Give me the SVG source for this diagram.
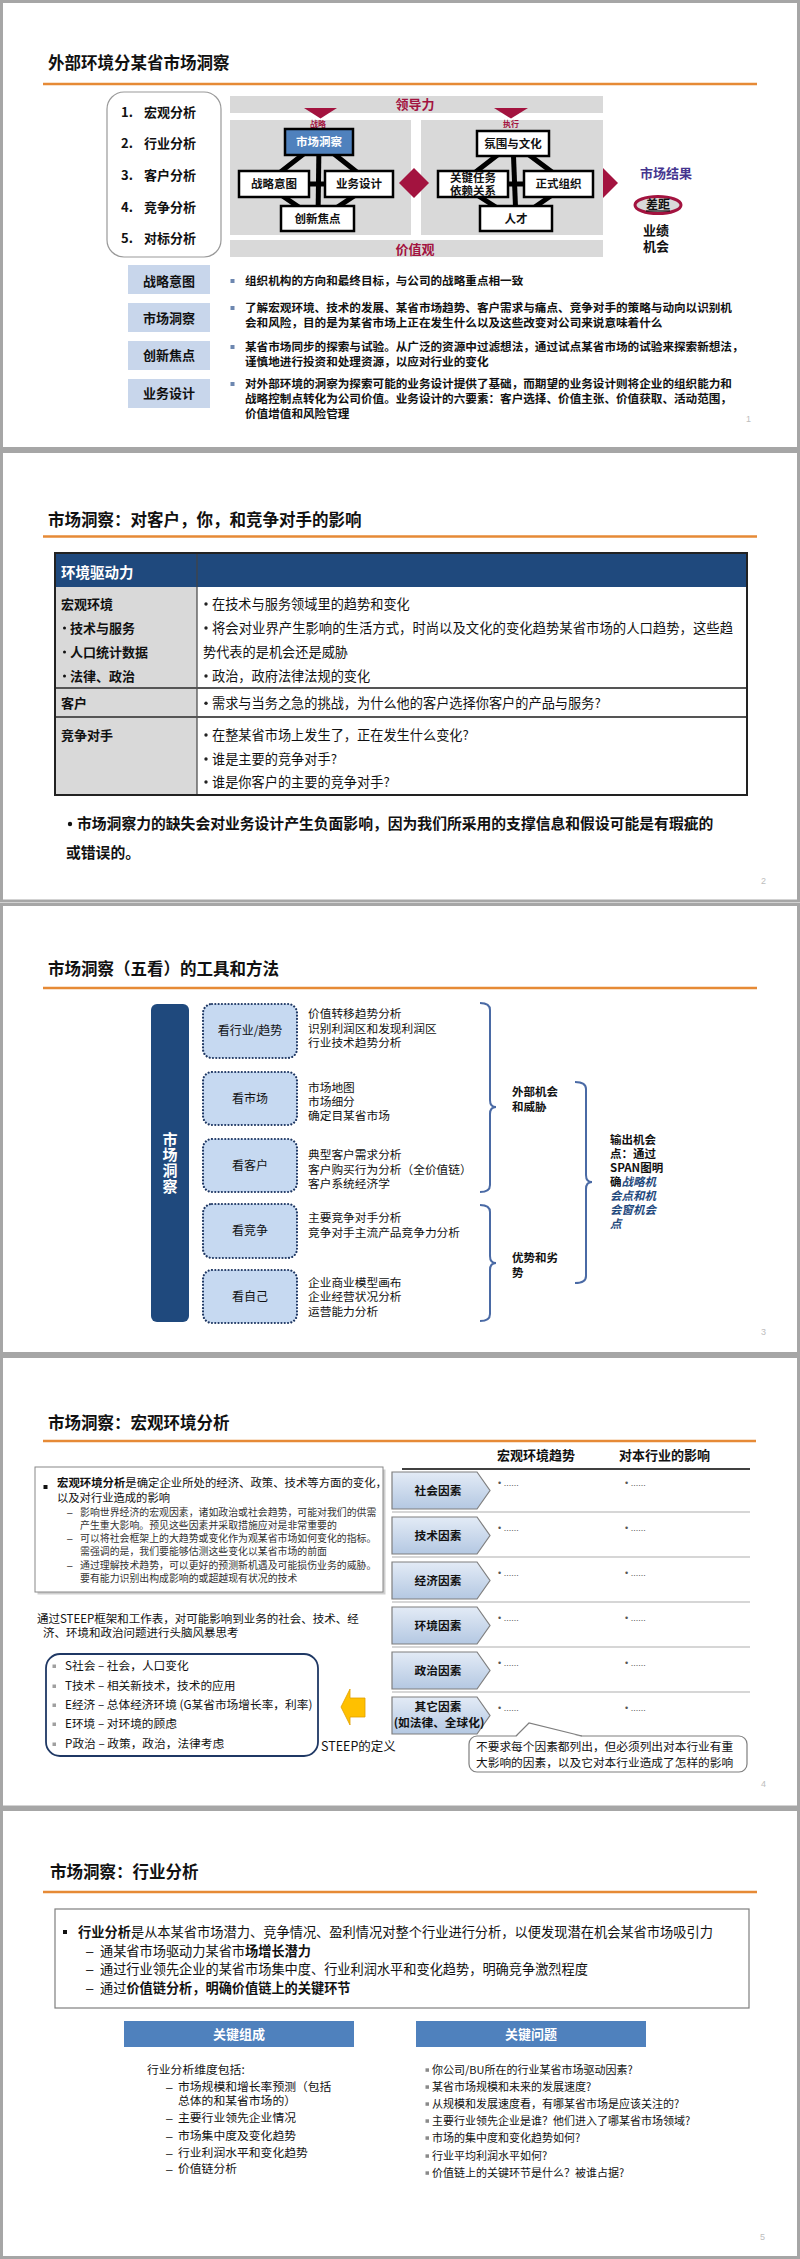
<svg xmlns="http://www.w3.org/2000/svg" width="800" height="2259" viewBox="0 0 800 2259">
<defs>
<style>
text{font-family:"Noto Sans CJK SC","Liberation Sans",sans-serif;fill:#111}
.b{font-weight:700}
.m{text-anchor:middle}
.ttl{font-size:16.5px;font-weight:700}
.frame{fill:#fff;stroke:#a6a6a6;stroke-width:3}
.orl{stroke:#E68A36;stroke-width:2.6}
.band{fill:#d9d9d9}
.cr{fill:#a3133f}
.crt{fill:#a3133f;font-weight:700}
.nb{fill:#fff;stroke:#000;stroke-width:2.5}
.nt{font-size:11.5px;font-weight:700}
.conn{stroke:#000;stroke-width:5;fill:none}
.lb{fill:#c8d6eb}
.p1{font-size:11.6px;font-weight:700}
.pg{font-size:9px;fill:#bdbdbd;font-family:"Liberation Sans",sans-serif}
.t13{font-size:13.2px}
.s2l{font-size:13px;font-weight:700}
.db{fill:#c6d9f1;stroke:#1f3864;stroke-width:2.2;stroke-dasharray:0.01 3.3;stroke-linecap:round}
.l12{font-size:11.7px}
.brace{fill:none;stroke:#4a6aa5;stroke-width:2}
.lab{font-size:11.5px;font-weight:700}
.bl{fill:#1f497d;font-style:italic}
.chev{fill:url(#cg);stroke:#7f7f7f;stroke-width:1.2}
.sep{stroke:#c8c8c8;stroke-width:1.5}
.dots{font-size:9px;fill:#555;font-family:"Liberation Sans",sans-serif}
.sq{fill:#111}
.dash{font-family:"Liberation Sans",sans-serif}
</style>
<linearGradient id="cg" x1="0" y1="0" x2="0" y2="1"><stop offset="0" stop-color="#e3ebf6"/><stop offset="1" stop-color="#b4c8e2"/></linearGradient>
</defs>
<rect x="0" y="0" width="800" height="2259" fill="#fff"/>
<g id="frames">
<rect class="frame" x="1.5" y="1.5" width="797" height="447"/>
<rect class="frame" x="1.5" y="451.5" width="797" height="449.5"/>
<rect class="frame" x="1.5" y="904.5" width="797" height="449"/>
<rect class="frame" x="1.5" y="1356.5" width="797" height="450.5"/>
<rect class="frame" x="1.5" y="1809.5" width="797" height="448"/>
</g>

<!-- ================= SLIDE 1 ================= -->
<g id="slide1">
<text class="ttl" x="48" y="69">外部环境分某省市场洞察</text>
<line class="orl" x1="43" y1="84" x2="757" y2="84"/>
<g id="s1-list">
<rect x="107" y="92" width="114" height="165" rx="17" fill="#fff" stroke="#999" stroke-width="1.2"/>
<g style="font-size:13px;font-weight:700">
<text x="121" y="117">1.</text><text x="144" y="117">宏观分析</text>
<text x="121" y="148">2.</text><text x="144" y="148">行业分析</text>
<text x="121" y="180">3.</text><text x="144" y="180">客户分析</text>
<text x="121" y="212">4.</text><text x="144" y="212">竞争分析</text>
<text x="121" y="243">5.</text><text x="144" y="243">对标分析</text>
</g>
</g>
<g id="s1-leadership">
<rect class="band" x="230" y="96" width="373" height="17"/>
<text class="crt m" x="415" y="108.5" style="font-size:13px">领导力</text>
<polygon class="cr" points="304,108 337,108 320.5,118.5"/>
<polygon class="cr" points="494,108 528,108 511,118.5"/>
</g>
<g id="s1-panels">
<rect class="band" x="230" y="120" width="181" height="115"/>
<rect class="band" x="421" y="120" width="182" height="115"/>
<text class="crt m" x="318" y="127" style="font-size:8px">战略</text>
<text class="crt m" x="511" y="127" style="font-size:8px">执行</text>
</g>
<g id="connectors">
<polygon class="conn" points="319,142 265,184 318,220 372,184"/>
<line class="conn" x1="319" y1="142" x2="318" y2="220"/>
<line class="conn" x1="265" y1="184" x2="372" y2="184"/>
<polygon class="conn" points="513,143 460,184 516,220 568,184"/>
<line class="conn" x1="513" y1="143" x2="516" y2="220"/>
<line class="conn" x1="460" y1="184" x2="568" y2="184"/>
</g>
<g id="n-market-insight"><rect x="285" y="129" width="68" height="26" fill="#4f81bd" stroke="#000" stroke-width="2.5"/><text class="nt m" x="319" y="146.3" style="fill:#fff">市场洞察</text></g>
<g id="n-strategic-intent"><rect class="nb" x="239" y="171" width="70" height="26"/><text class="nt m" x="274" y="188.3">战略意图</text></g>
<g id="n-business-design"><rect class="nb" x="325" y="171" width="68" height="26"/><text class="nt m" x="359" y="188.3">业务设计</text></g>
<g id="n-innovation"><rect class="nb" x="281" y="206" width="73" height="25"/><text class="nt m" x="317.5" y="222.8">创新焦点</text></g>
<g id="n-culture"><rect class="nb" x="477" y="131" width="72" height="25"/><text class="nt m" x="513" y="147.8">氛围与文化</text></g>
<g id="n-key-tasks"><rect class="nb" x="438" y="171" width="70" height="26"/><text class="nt m" x="473" y="181.5">关键任务</text><text class="nt m" x="473" y="194.5">依赖关系</text></g>
<g id="n-formal-org"><rect class="nb" x="524" y="171" width="69" height="26"/><text class="nt m" x="558.5" y="188.3">正式组织</text></g>
<g id="n-talent"><rect class="nb" x="480" y="206" width="72" height="25"/><text class="nt m" x="516" y="222.8">人才</text></g>
<polygon class="cr" points="399,183 414,168 429,183 414,198"/>
<polygon class="cr" points="603,168 618,183 603,198"/>
<g id="s1-results">
<text class="b m" x="666" y="177.8" style="font-size:13px;fill:#45368f">市场结果</text>
<ellipse cx="658" cy="205" rx="23" ry="8.5" fill="#d9d9d9" stroke="#a3133f" stroke-width="3"/>
<text class="b m" x="658" y="209.4" style="font-size:12px;text-decoration:underline">差距</text>
<text class="b m" x="656" y="235" style="font-size:13px">业绩</text>
<text class="b m" x="656" y="251" style="font-size:13px">机会</text>
</g>
<g id="s1-values">
<rect class="band" x="230" y="240" width="373" height="17"/>
<text class="crt m" x="415" y="253.5" style="font-size:13px">价值观</text>
</g>
<g id="s1-defs">
<rect class="lb" x="128" y="265" width="82" height="29"/><text class="b m" x="169" y="285.8" style="font-size:13px">战略意图</text>
<rect class="lb" x="128" y="303" width="82" height="29"/><text class="b m" x="169" y="322.8" style="font-size:13px">市场洞察</text>
<rect class="lb" x="128" y="341" width="82" height="29"/><text class="b m" x="169" y="360.3" style="font-size:13px">创新焦点</text>
<rect class="lb" x="128" y="379" width="82" height="29"/><text class="b m" x="169" y="398.3" style="font-size:13px">业务设计</text>
<g fill="#6d87b0"><rect x="230.5" y="279" width="4" height="4"/><rect x="230.5" y="306" width="4" height="4"/><rect x="230.5" y="345" width="4" height="4"/><rect x="230.5" y="382" width="4" height="4"/></g>
<text class="p1" x="245" y="285.3">组织机构的方向和最终目标，与公司的战略重点相一致</text>
<text class="p1" x="245" y="312.3">了解宏观环境、技术的发展、某省市场趋势、客户需求与痛点、竞争对手的策略与动向以识别机</text>
<text class="p1" x="245" y="327.3">会和风险，目的是为某省市场上正在发生什么以及这些改变对公司来说意味着什么</text>
<text class="p1" x="245" y="351.3">某省市场同步的探索与试验。从广泛的资源中过滤想法，通过试点某省市场的试验来探索新想法，</text>
<text class="p1" x="245" y="366.3">谨慎地进行投资和处理资源，以应对行业的变化</text>
<text class="p1" x="245" y="388.3">对外部环境的洞察为探索可能的业务设计提供了基础，而期望的业务设计则将企业的组织能力和</text>
<text class="p1" x="245" y="403.3">战略控制点转化为公司价值。业务设计的六要素：客户选择、价值主张、价值获取、活动范围，</text>
<text class="p1" x="245" y="418.3">价值增值和风险管理</text>
</g>
<text class="pg" x="746" y="422">1</text>
</g>

<!-- ================= SLIDE 2 ================= -->
<g id="slide2">
<text class="ttl" x="48" y="526">市场洞察：对客户，你，和竞争对手的影响</text>
<line class="orl" x1="43" y1="536.5" x2="757" y2="536.5"/>
<g id="s2-table">
<rect x="55" y="553" width="692" height="34" fill="#1f497d"/>
<rect x="55" y="587" width="142" height="208" fill="#d9d9d9"/>
<line x1="197" y1="553" x2="197" y2="795" stroke="#444" stroke-width="1.2"/>
<line x1="55" y1="688" x2="747" y2="688" stroke="#555" stroke-width="2"/>
<line x1="55" y1="717" x2="747" y2="717" stroke="#555" stroke-width="2"/>
<rect x="55" y="553" width="692" height="242" fill="none" stroke="#222" stroke-width="2"/>
<text class="b" x="61" y="578.4" style="font-size:14.5px;fill:#fff">环境驱动力</text>
<text class="s2l" x="61" y="608.8">宏观环境</text>
<g fill="#111"><circle cx="64.5" cy="628" r="1.5"/><circle cx="64.5" cy="652" r="1.5"/><circle cx="64.5" cy="676" r="1.5"/></g>
<text class="s2l" x="70" y="632.8">技术与服务</text>
<text class="s2l" x="70" y="656.8">人口统计数据</text>
<text class="s2l" x="70" y="680.8">法律、政治</text>
<text class="s2l" x="61" y="708">客户</text>
<text class="s2l" x="61" y="739.8">竞争对手</text>
<g fill="#222"><circle cx="206" cy="604" r="1.7"/><circle cx="206" cy="628" r="1.7"/><circle cx="206" cy="676" r="1.7"/><circle cx="206" cy="703.2" r="1.7"/><circle cx="206" cy="735" r="1.7"/><circle cx="206" cy="759" r="1.7"/><circle cx="206" cy="782" r="1.7"/></g>
<text class="t13" x="212" y="608.8">在技术与服务领域里的趋势和变化</text>
<text class="t13" x="212" y="632.8" textLength="521" lengthAdjust="spacingAndGlyphs">将会对业界产生影响的生活方式，时尚以及文化的变化趋势某省市场的人口趋势，这些趋</text>
<text class="t13" x="203" y="656.8">势代表的是机会还是威胁</text>
<text class="t13" x="212" y="680.8">政治，政府法律法规的变化</text>
<text class="t13" x="212" y="708">需求与当务之急的挑战，为什么他的客户选择你客户的产品与服务?</text>
<text class="t13" x="212" y="739.8">在整某省市场上发生了，正在发生什么变化?</text>
<text class="t13" x="212" y="763.8">谁是主要的竞争对手?</text>
<text class="t13" x="212" y="786.8">谁是你客户的主要的竞争对手?</text>
</g>
<g id="s2-note">
<circle cx="70" cy="824" r="2.2" fill="#111"/>
<text class="b" x="77" y="829.4" style="font-size:14.8px">市场洞察力的缺失会对业务设计产生负面影响，因为我们所采用的支撑信息和假设可能是有瑕疵的</text>
<text class="b" x="66" y="858.4" style="font-size:14.8px">或错误的。</text>
</g>
<text class="pg" x="761" y="884">2</text>
</g>

<!-- ================= SLIDE 3 ================= -->
<g id="slide3">
<text class="ttl" x="48" y="975">市场洞察（五看）的工具和方法</text>
<line class="orl" x1="43" y1="988" x2="757" y2="988"/>
<g id="s3-bar">
<rect x="151" y="1004" width="38" height="318" rx="6" fill="#1f497d"/>
<text class="b m" x="170" y="1163" style="fill:#fff;font-size:15px;writing-mode:vertical-rl;letter-spacing:0.8px">市场洞察</text>
</g>
<g id="s3-industry"><rect class="db" x="203" y="1004" width="94" height="54" rx="9"/><text class="m" x="250" y="1035.4" style="font-size:12px">看行业/趋势</text>
<text class="l12" x="308" y="1018.3">价值转移趋势分析</text><text class="l12" x="308" y="1033.3">识别利润区和发现利润区</text><text class="l12" x="308" y="1047.3">行业技术趋势分析</text></g>
<g id="s3-market"><rect class="db" x="203" y="1072" width="94" height="53" rx="9"/><text class="m" x="250" y="1102.9" style="font-size:12px">看市场</text>
<text class="l12" x="308" y="1092.3">市场地图</text><text class="l12" x="308" y="1106.3">市场细分</text><text class="l12" x="308" y="1120.3">确定目某省市场</text></g>
<g id="s3-customer"><rect class="db" x="203" y="1139" width="94" height="53" rx="9"/><text class="m" x="250" y="1169.9" style="font-size:12px">看客户</text>
<text class="l12" x="308" y="1159.3">典型客户需求分析</text><text class="l12" x="308" y="1174.3">客户购买行为分析（全价值链）</text><text class="l12" x="308" y="1188.3">客户系统经济学</text></g>
<g id="s3-competition"><rect class="db" x="203" y="1204" width="94" height="54" rx="9"/><text class="m" x="250" y="1235.4" style="font-size:12px">看竞争</text>
<text class="l12" x="308" y="1222.3">主要竞争对手分析</text><text class="l12" x="308" y="1237.3">竞争对手主流产品竞争力分析</text></g>
<g id="s3-self"><rect class="db" x="203" y="1270" width="94" height="53" rx="9"/><text class="m" x="250" y="1300.9" style="font-size:12px">看自己</text>
<text class="l12" x="308" y="1287.3">企业商业模型画布</text><text class="l12" x="308" y="1301.3">企业经营状况分析</text><text class="l12" x="308" y="1316.3">运营能力分析</text></g>
<g id="s3-braces">
<path class="brace" d="M480,1003 Q490,1003 490,1010 L490,1100 Q490,1107 496,1107 Q490,1107 490,1114 L490,1185 Q490,1192 480,1192"/>
<path class="brace" d="M480,1205 Q490,1205 490,1212 L490,1256 Q490,1263 496,1263 Q490,1263 490,1270 L490,1314 Q490,1321 480,1321"/>
<path class="brace" d="M575,1082 Q586,1082 586,1089 L586,1175 Q586,1182 592,1182 Q586,1182 586,1189 L586,1276 Q586,1283 575,1283"/>
</g>
<g id="s3-external"><text class="lab" x="512" y="1096.3">外部机会</text><text class="lab" x="512" y="1111.3">和威胁</text></g>
<g id="s3-swot"><text class="lab" x="512" y="1262.3">优势和劣</text><text class="lab" x="512" y="1277.3">势</text></g>
<g id="s3-output">
<text class="lab" x="610" y="1144.3">输出机会</text>
<text class="lab" x="610" y="1158.3">点：通过</text>
<text class="lab" x="610" y="1172.3">SPAN图明</text>
<text class="lab" x="610" y="1186.3">确<tspan class="bl">战略机</tspan></text>
<text class="lab bl" x="610" y="1200.3">会点和机</text>
<text class="lab bl" x="610" y="1214.3">会窗机会</text>
<text class="lab bl" x="610" y="1228.3">点</text>
</g>
<text class="pg" x="761" y="1335">3</text>
</g>

<!-- ================= SLIDE 4 ================= -->
<g id="slide4">
<text class="ttl" x="48" y="1429">市场洞察：宏观环境分析</text>
<line class="orl" x1="43" y1="1441" x2="756" y2="1441"/>
<g id="s4-macro-box">
<rect x="37.5" y="1469.5" width="348" height="125" fill="#cfcfcf"/>
<rect x="35" y="1467" width="348" height="125" fill="#fff" stroke="#888" stroke-width="1"/>
<rect class="sq" x="43.5" y="1485" width="4" height="4"/>
<text x="57" y="1487.2" style="font-size:11.3px" textLength="330" lengthAdjust="spacingAndGlyphs"><tspan class="b">宏观环境分析</tspan>是确定企业所处的经济、政策、技术等方面的变化，</text>
<text x="57" y="1502.2" style="font-size:11.3px">以及对行业造成的影响</text>
<text class="dash" x="67" y="1515.6" style="font-size:9.9px">–</text>
<text x="80" y="1515.6" style="font-size:9.9px;fill:#333">影响世界经济的宏观因素，诸如政治或社会趋势，可能对我们的供需</text>
<text x="80" y="1528.6" style="font-size:9.9px;fill:#333">产生重大影响。预见这些因素并采取措施应对是非常重要的</text>
<text class="dash" x="67" y="1541.6" style="font-size:9.9px">–</text>
<text x="80" y="1541.6" style="font-size:9.9px;fill:#333">可以将社会框架上的大趋势或变化作为观某省市场如何变化的指标。</text>
<text x="80" y="1554.6" style="font-size:9.9px;fill:#333">需强调的是，我们要能够估测这些变化以某省市场的前面</text>
<text class="dash" x="67" y="1568.6" style="font-size:9.9px">–</text>
<text x="80" y="1568.6" style="font-size:9.9px;fill:#333">通过理解技术趋势，可以更好的预测新机遇及可能损伤业务的威胁。</text>
<text x="80" y="1581.6" style="font-size:9.9px;fill:#333">要有能力识别出构成影响的或超越现有状况的技术</text>
</g>
<g id="s4-table-head">
<text class="b m" x="536" y="1459.8" style="font-size:13px">宏观环境趋势</text>
<text class="b m" x="664.5" y="1459.8" style="font-size:13px">对本行业的影响</text>
<line x1="402" y1="1469" x2="750" y2="1469" stroke="#000" stroke-width="1.5"/>
<line class="sep" x1="392" y1="1512" x2="750" y2="1512"/>
<line class="sep" x1="392" y1="1557" x2="750" y2="1557"/>
<line class="sep" x1="392" y1="1602" x2="750" y2="1602"/>
<line class="sep" x1="392" y1="1647" x2="750" y2="1647"/>
<line class="sep" x1="392" y1="1692" x2="750" y2="1692"/>
</g>
<g id="s4-social"><polygon class="chev" points="392,1472 477,1472 490,1490.5 477,1509 392,1509"/><text class="b m" x="438" y="1494.8" style="font-size:11.7px">社会因素</text>
<text class="dots" x="498" y="1486">•   ......</text><text class="dots" x="625" y="1486">•   ......</text></g>
<g id="s4-tech"><polygon class="chev" points="392,1517 477,1517 490,1535.5 477,1554 392,1554"/><text class="b m" x="438" y="1539.8" style="font-size:11.7px">技术因素</text>
<text class="dots" x="498" y="1531">•   ......</text><text class="dots" x="625" y="1531">•   ......</text></g>
<g id="s4-econ"><polygon class="chev" points="392,1562 477,1562 490,1580.5 477,1599 392,1599"/><text class="b m" x="438" y="1584.8" style="font-size:11.7px">经济因素</text>
<text class="dots" x="498" y="1576">•   ......</text><text class="dots" x="625" y="1576">•   ......</text></g>
<g id="s4-env"><polygon class="chev" points="392,1607 477,1607 490,1625.5 477,1644 392,1644"/><text class="b m" x="438" y="1629.8" style="font-size:11.7px">环境因素</text>
<text class="dots" x="498" y="1621">•   ......</text><text class="dots" x="625" y="1621">•   ......</text></g>
<g id="s4-pol"><polygon class="chev" points="392,1652 477,1652 490,1670.5 477,1689 392,1689"/><text class="b m" x="438" y="1674.8" style="font-size:11.7px">政治因素</text>
<text class="dots" x="498" y="1666">•   ......</text><text class="dots" x="625" y="1666">•   ......</text></g>
<g id="s4-other"><polygon class="chev" points="392,1697 477,1697 490,1715.5 477,1734 392,1734"/><text class="b m" x="438" y="1711.3" style="font-size:11.7px">其它因素</text><text class="b m" x="439" y="1727.3" style="font-size:11.7px">(如法律、全球化)</text>
<text class="dots" x="498" y="1711">•   ......</text><text class="dots" x="625" y="1711">•   ......</text></g>
<g id="s4-callout">
<rect x="469" y="1736" width="278" height="36" rx="8" fill="#fff" stroke="#7f7f7f" stroke-width="1.2"/>
<polygon points="516,1737 529,1723 582,1737" fill="#fff"/>
<polyline points="516,1736 529,1723 582,1736" fill="none" stroke="#7f7f7f" stroke-width="1.2"/>
<text x="476" y="1751.3" style="font-size:11.7px">不要求每个因素都列出，但必须列出对本行业有重</text>
<text x="476" y="1767.3" style="font-size:11.7px">大影响的因素，以及它对本行业造成了怎样的影响</text>
</g>
<g id="s4-steep-intro">
<text x="37" y="1623.3" style="font-size:11.5px">通过STEEP框架和工作表，对可能影响到业务的社会、技术、经</text>
<text x="43" y="1637.3" style="font-size:11.5px">济、环境和政治问题进行头脑风暴思考</text>
</g>
<g id="s4-steep-box">
<rect x="46" y="1654" width="272" height="102" rx="14" fill="#fff" stroke="#1f3864" stroke-width="1.8"/>
<g fill="#a0a0a0"><rect x="52.5" y="1664.5" width="3.5" height="3.5"/><rect x="52.5" y="1684.5" width="3.5" height="3.5"/><rect x="52.5" y="1703.5" width="3.5" height="3.5"/><rect x="52.5" y="1722.5" width="3.5" height="3.5"/><rect x="52.5" y="1742.5" width="3.5" height="3.5"/></g>
<text x="65" y="1670.4" style="font-size:11.7px">S社会 – 社会，人口变化</text>
<text x="65" y="1690.4" style="font-size:11.7px">T技术 – 相关新技术，技术的应用</text>
<text x="65" y="1709.4" style="font-size:11.7px">E经济 – 总体经济环境 (G某省市场增长率，利率)</text>
<text x="65" y="1728.4" style="font-size:11.7px">E环境 – 对环境的顾虑</text>
<text x="65" y="1748.4" style="font-size:11.7px">P政治 – 政策，政治，法律考虑</text>
</g>
<g id="s4-arrow">
<polygon points="341,1707 350,1689 350,1698 365,1698 365,1717 350,1717 350,1725" fill="#ffc000" stroke="#e0a000" stroke-width="0.8"/>
</g>
<text x="321" y="1751.4" style="font-size:12.5px">STEEP的定义</text>
<text class="pg" x="761" y="1787">4</text>
</g>

<!-- ================= SLIDE 5 ================= -->
<g id="slide5">
<text class="ttl" x="50" y="1878">市场洞察：行业分析</text>
<line class="orl" x1="43" y1="1892" x2="757" y2="1892"/>
<g id="s5-box">
<rect x="55" y="1909" width="694" height="99" fill="#fff" stroke="#7f7f7f" stroke-width="1.2"/>
<rect class="sq" x="63" y="1930" width="4" height="4"/>
<text x="78" y="1936.8" style="font-size:13.2px" textLength="635" lengthAdjust="spacingAndGlyphs"><tspan class="b">行业分析</tspan>是从本某省市场潜力、竞争情况、盈利情况对整个行业进行分析，以便发现潜在机会某省市场吸引力</text>
<text class="dash" x="86" y="1955.9" style="font-size:13.2px">–</text>
<text x="100" y="1955.9" style="font-size:13.2px">通某省市场驱动力某省市<tspan class="b">场增长潜力</tspan></text>
<text class="dash" x="86" y="1973.9" style="font-size:13.2px">–</text>
<text x="100" y="1973.9" style="font-size:13.2px">通过行业领先企业的某省市场集中度、行业利润水平和变化趋势，明确竞争激烈程度</text>
<text class="dash" x="86" y="1992.9" style="font-size:13.2px">–</text>
<text x="100" y="1992.9" style="font-size:13.2px">通过<tspan class="b">价值链分析，明确价值链上的关键环节</tspan></text>
</g>
<g id="s5-components">
<rect x="124" y="2021" width="230" height="26" fill="#4f81bd"/>
<text class="b m" x="239" y="2038.8" style="font-size:13px;fill:#fff">关键组成</text>
<text x="147" y="2074.3" style="font-size:11.8px">行业分析维度包括:</text>
<text class="dash" x="166" y="2091.3" style="font-size:11.8px">–</text><text x="178" y="2091.3" style="font-size:11.8px">市场规模和增长率预测（包括</text>
<text x="178" y="2105.3" style="font-size:11.8px">总体的和某省市场的）</text>
<text class="dash" x="166" y="2122.3" style="font-size:11.8px">–</text><text x="178" y="2122.3" style="font-size:11.8px">主要行业领先企业情况</text>
<text class="dash" x="166" y="2140.3" style="font-size:11.8px">–</text><text x="178" y="2140.3" style="font-size:11.8px">市场集中度及变化趋势</text>
<text class="dash" x="166" y="2157.3" style="font-size:11.8px">–</text><text x="178" y="2157.3" style="font-size:11.8px">行业利润水平和变化趋势</text>
<text class="dash" x="166" y="2173.3" style="font-size:11.8px">–</text><text x="178" y="2173.3" style="font-size:11.8px">价值链分析</text>
</g>
<g id="s5-questions">
<rect x="416" y="2021" width="230" height="26" fill="#4f81bd"/>
<text class="b m" x="531" y="2038.8" style="font-size:13px;fill:#fff">关键问题</text>
<g fill="#8a8a8a"><rect x="425.5" y="2068.3" width="3.5" height="3.5"/><rect x="425.5" y="2085.3" width="3.5" height="3.5"/><rect x="425.5" y="2102.3" width="3.5" height="3.5"/><rect x="425.5" y="2119.3" width="3.5" height="3.5"/><rect x="425.5" y="2136.3" width="3.5" height="3.5"/><rect x="425.5" y="2154.3" width="3.5" height="3.5"/><rect x="425.5" y="2171.3" width="3.5" height="3.5"/></g>
<text x="432" y="2074" style="font-size:11px">你公司/BU所在的行业某省市场驱动因素?</text>
<text x="432" y="2091" style="font-size:11px">某省市场规模和未来的发展速度?</text>
<text x="432" y="2108" style="font-size:11px">从规模和发展速度看，有哪某省市场是应该关注的?</text>
<text x="432" y="2125" style="font-size:11px">主要行业领先企业是谁？他们进入了哪某省市场领域?</text>
<text x="432" y="2142" style="font-size:11px">市场的集中度和变化趋势如何?</text>
<text x="432" y="2160" style="font-size:11px">行业平均利润水平如何?</text>
<text x="432" y="2177" style="font-size:11px">价值链上的关键环节是什么？被谁占据?</text>
</g>
<text class="pg" x="760" y="2240">5</text>
</g>
</svg>
